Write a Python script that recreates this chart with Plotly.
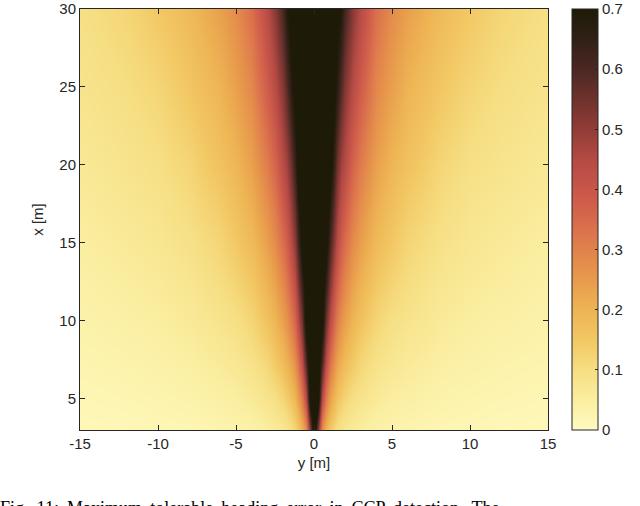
import plotly.graph_objects as go

# lateral positions y [m] (half, y >= 0), mirrored for y < 0
y_half = [0, 0.25, 0.5, 0.75, 1, 1.25, 1.5, 1.75, 2, 2.5, 3, 4, 5, 6, 8, 10, 12, 15]
# longitudinal positions x [m]
x_rows = [3, 4, 5, 7.5, 10, 15, 20, 25, 30]

# values, one row per x, columns follow y_half
z_x3 = [0.80, 0.51, 0.28, 0.20, 0.15, 0.12, 0.095, 0.085, 0.074, 0.061, 0.050, 0.040, 0.032, 0.027, 0.021, 0.017, 0.014, 0.010]
z_x4 = [0.80, 0.64, 0.36, 0.26, 0.195, 0.16, 0.13, 0.11, 0.095, 0.080, 0.067, 0.050, 0.043, 0.035, 0.027, 0.023, 0.018, 0.015]
z_x5 = [0.80, 0.74, 0.44, 0.31, 0.24, 0.195, 0.165, 0.14, 0.12, 0.095, 0.083, 0.063, 0.050, 0.044, 0.033, 0.027, 0.023, 0.018]
z_x7 = [0.80, 0.78, 0.61, 0.44, 0.34, 0.28, 0.24, 0.21, 0.185, 0.15, 0.12, 0.091, 0.074, 0.063, 0.048, 0.040, 0.033, 0.027]
z_x10 = [0.80, 0.79, 0.74, 0.55, 0.44, 0.36, 0.31, 0.27, 0.24, 0.195, 0.165, 0.12, 0.095, 0.083, 0.063, 0.050, 0.044, 0.035]
z_x15 = [0.80, 0.79, 0.78, 0.74, 0.61, 0.51, 0.44, 0.38, 0.34, 0.28, 0.24, 0.185, 0.15, 0.12, 0.091, 0.074, 0.063, 0.050]
z_x20 = [0.80, 0.80, 0.79, 0.78, 0.74, 0.64, 0.55, 0.48, 0.44, 0.36, 0.31, 0.24, 0.195, 0.165, 0.12, 0.095, 0.083, 0.067]
z_x25 = [0.80, 0.80, 0.79, 0.79, 0.78, 0.74, 0.67, 0.59, 0.52, 0.44, 0.38, 0.29, 0.24, 0.20, 0.155, 0.12, 0.10, 0.083]
z_x30 = [0.80, 0.80, 0.79, 0.79, 0.78, 0.77, 0.74, 0.69, 0.61, 0.51, 0.44, 0.34, 0.28, 0.24, 0.185, 0.15, 0.12, 0.095]
z_half = [z_x3, z_x4, z_x5, z_x7, z_x10, z_x15, z_x20, z_x25, z_x30]

x_ticks = [-15, -10, -5, 0, 5, 10, 15]
x_ticklabels = ["-15", "-10", "-5", "0", "5", "10", "15"]
y_ticks = [5, 10, 15, 20, 25, 30]
cb_ticks = [0, 0.1, 0.2, 0.3, 0.4, 0.5, 0.6, 0.7]
caption_words = ["Fig.", "11:", "Maximum", "tolerable", "heading", "error", "in", "CCP", "detection.", "The"]

# full symmetric grid
y_full = [-v for v in y_half[:0:-1]] + y_half
z_full = [row[:0:-1] + row for row in z_half]

colorscale = [
    [0.0, "rgb(255,250,192)"],
    [0.0714, "rgb(250,238,160)"],
    [0.1429, "rgb(246,222,130)"],
    [0.2143, "rgb(242,200,100)"],
    [0.2857, "rgb(238,180,84)"],
    [0.3571, "rgb(232,155,76)"],
    [0.4286, "rgb(225,130,76)"],
    [0.5, "rgb(215,105,76)"],
    [0.5714, "rgb(200,86,74)"],
    [0.6429, "rgb(180,74,68)"],
    [0.7143, "rgb(145,60,55)"],
    [0.7857, "rgb(110,50,45)"],
    [0.8571, "rgb(75,40,34)"],
    [0.9286, "rgb(48,32,22)"],
    [1.0, "rgb(30,26,8)"],
]

axis_col = "rgb(38,38,38)"
font = dict(family="Liberation Sans, Arial, sans-serif", size=15, color=axis_col)

fig = go.Figure(go.Heatmap(
    x=y_full, y=x_rows, z=z_full,
    zmin=0, zmax=0.70001, zsmooth="best",
    colorscale=colorscale,
    colorbar=dict(
        x=1.051, xanchor="left", xref="paper",
        y=0.5, yanchor="middle", len=1, lenmode="fraction",
        thickness=26, thicknessmode="pixels",
        outlinecolor=axis_col, outlinewidth=1,
        tickvals=cb_ticks, ticktext=[str(v) for v in cb_ticks],
        ticks="inside", ticklen=3, tickcolor=axis_col,
        tickfont=font, xpad=0, ypad=0, ticklabeloverflow="allow",
    ),
))

fig.update_layout(
    width=640, height=506,
    margin=dict(l=80, r=92, t=9, b=76, autoexpand=False),
    paper_bgcolor="white", plot_bgcolor="white",
    font=font,
    xaxis=dict(
        range=[-15.0001, 15.0001], tickvals=x_ticks, ticktext=x_ticklabels,
        ticks="inside", ticklen=5, tickcolor=axis_col,
        showline=True, linecolor=axis_col, linewidth=1, mirror="ticks",
        showgrid=False, zeroline=False, ticklabeloverflow="allow",
        title=dict(text="y [m]", standoff=6, font=font),
    ),
    yaxis=dict(
        range=[3, 30.0001], tickvals=y_ticks,
        ticks="inside", ticklen=5, tickcolor=axis_col,
        showline=True, linecolor=axis_col, linewidth=1, mirror="ticks",
        showgrid=False, zeroline=False, ticklabeloverflow="allow",
        title=dict(text="x [m]", standoff=12, font=font),
    ),
    annotations=[dict(
        text=" \u2009".join(caption_words),
        xref="paper", yref="paper", x=-0.176, y=-0.156,
        xanchor="left", yanchor="top", showarrow=False,
        font=dict(family="Liberation Serif, Times New Roman, serif", size=18, color="black"),
    )],
)

fig.write_html("out.html", config={"displayModeBar": False},
               post_script="document.body.style.margin='0';")
